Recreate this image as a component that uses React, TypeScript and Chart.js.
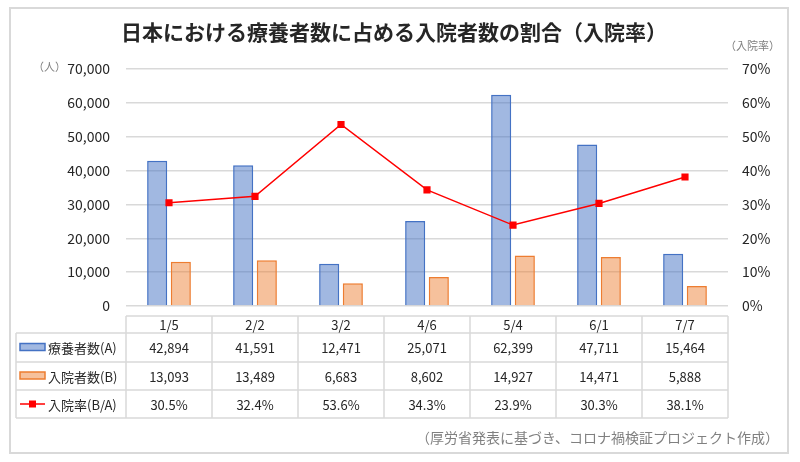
import React, { useEffect, useRef } from "react";
import { Chart, registerables } from "chart.js";

Chart.register(...registerables);

const categories = ["1/5", "2/2", "3/2", "4/6", "5/4", "6/1", "7/7"];
const recuperating = [42894, 41591, 12471, 25071, 62399, 47711, 15464];
const hospitalized = [13093, 13489, 6683, 8602, 14927, 14471, 5888];
const hospitalRate = [30.5, 32.4, 53.6, 34.3, 23.9, 30.3, 38.1];
const seriesNames = ["療養者数(A)", "入院者数(B)", "入院率(B/A)"];
const titleText = "日本における療養者数に占める入院者数の割合（入院率）";
const leftUnit = "（人）";
const rightUnit = "（入院率）";
const sourceText = "（厚労省発表に基づき、コロナ禍検証プロジェクト作成）";

const FONT = '"Noto Sans CJK JP", "Noto Sans", sans-serif';
const BLUE = "#4472C4";
const BLUE_FILL = "rgba(68,114,196,0.5)";
const ORANGE = "#ED7D31";
const ORANGE_FILL = "rgba(237,125,49,0.48)";
const RED = "#FF0000";
const GRID = "#D9D9D9";

const fmtNum = (v: number) => v.toLocaleString("en-US");
const fmtPct = (v: number) => v.toFixed(1) + "%";

const extrasPlugin = {
  id: "extras",
  afterDraw(chart: any) {
    const ctx = chart.ctx as CanvasRenderingContext2D;
    const area = chart.chartArea;
    const xs = chart.scales.x;
    ctx.save();

    // outer border
    ctx.strokeStyle = "#D9D9D9";
    ctx.lineWidth = 2;
    ctx.strokeRect(10, 8, 778, 445);

    // title
    ctx.fillStyle = "#262626";
    ctx.font = `bold 21px ${FONT}`;
    ctx.textAlign = "center";
    ctx.textBaseline = "middle";
    ctx.fillText(titleText, 394, 32);

    // unit labels
    ctx.fillStyle = "#808080";
    ctx.font = `11px ${FONT}`;
    ctx.textAlign = "left";
    ctx.fillText(leftUnit, 33, 67);
    ctx.textAlign = "right";
    ctx.fillText(rightUnit, 780, 46);

    // table
    const left = area.left;
    const right = area.right;
    const n = categories.length;
    const colW = (right - left) / n;
    const x0 = 16;
    const yTop = 316;
    const rows = [333, 362, 390, 418];

    ctx.strokeStyle = GRID;
    ctx.lineWidth = 1.5;
    ctx.beginPath();
    ctx.moveTo(left, yTop);
    ctx.lineTo(right, yTop);
    rows.forEach((y) => {
      ctx.moveTo(x0, y);
      ctx.lineTo(right, y);
    });
    for (let i = 0; i <= n; i++) {
      const x = left + i * colW;
      ctx.moveTo(x, yTop);
      ctx.lineTo(x, rows[3]);
    }
    ctx.moveTo(x0, rows[0]);
    ctx.lineTo(x0, rows[3]);
    ctx.stroke();

    ctx.fillStyle = "#262626";
    ctx.textAlign = "center";
    ctx.textBaseline = "middle";
    ctx.font = `13px ${FONT}`;
    const headY = (yTop + rows[0]) / 2 + 1;
    categories.forEach((c, i) => {
      const cx = xs.getPixelForValue(i);
      ctx.fillText(c, cx, headY);
    });
    const rowData = [
      recuperating.map(fmtNum),
      hospitalized.map(fmtNum),
      hospitalRate.map(fmtPct),
    ];
    rowData.forEach((vals, r) => {
      const cy = (rows[r] + rows[r + 1]) / 2 + 1;
      vals.forEach((v, i) => {
        const cx = xs.getPixelForValue(i);
        ctx.fillText(v, cx, cy);
      });
    });

    // legend keys in first column
    const keyX = 20;
    const keyW = 25;
    for (let r = 0; r < 3; r++) {
      const cy = (rows[r] + rows[r + 1]) / 2;
      if (r < 2) {
        ctx.fillStyle = r === 0 ? BLUE_FILL : ORANGE_FILL;
        ctx.strokeStyle = r === 0 ? BLUE : ORANGE;
        ctx.lineWidth = 1.5;
        ctx.fillRect(keyX, cy - 4, keyW, 7);
        ctx.strokeRect(keyX, cy - 4, keyW, 7);
      } else {
        ctx.strokeStyle = RED;
        ctx.lineWidth = 1.5;
        ctx.beginPath();
        ctx.moveTo(keyX, cy);
        ctx.lineTo(keyX + keyW, cy);
        ctx.stroke();
        ctx.fillStyle = RED;
        ctx.fillRect(keyX + keyW / 2 - 3.5, cy - 3.5, 7, 7);
      }
      ctx.fillStyle = "#262626";
      ctx.textAlign = "left";
      ctx.font = `13px ${FONT}`;
      ctx.fillText(seriesNames[r], keyX + keyW + 3, cy + 1);
    }

    // source
    ctx.fillStyle = "#808080";
    ctx.font = `14px ${FONT}`;
    ctx.textAlign = "right";
    ctx.fillText(sourceText, 779, 438);

    ctx.restore();
  },
};

export default function App() {
  const ref = useRef<HTMLCanvasElement | null>(null);

  useEffect(() => {
    if (!ref.current) return;
    const chart = new Chart(ref.current, {
      type: "bar",
      data: {
        labels: categories,
        datasets: [
          {
            type: "line",
            label: seriesNames[2],
            data: hospitalRate,
            yAxisID: "y1",
            borderColor: RED,
            backgroundColor: RED,
            borderWidth: 1.5,
            pointStyle: "rect",
            pointRadius: 4,
            pointBackgroundColor: RED,
            pointBorderColor: RED,
            order: 0,
          } as any,
          {
            type: "bar",
            label: seriesNames[0],
            data: recuperating,
            yAxisID: "y",
            backgroundColor: BLUE_FILL,
            borderColor: BLUE,
            borderWidth: 1.5,
            categoryPercentage: 0.55,
            barPercentage: 0.85,
            order: 1,
          },
          {
            type: "bar",
            label: seriesNames[1],
            data: hospitalized,
            yAxisID: "y",
            backgroundColor: ORANGE_FILL,
            borderColor: ORANGE,
            borderWidth: 1.5,
            categoryPercentage: 0.55,
            barPercentage: 0.85,
            order: 1,
          },
        ],
      },
      options: {
        responsive: false,
        animation: false,
        layout: { padding: { left: 10, right: 0, top: 69, bottom: 156 } },
        plugins: {
          legend: { display: false },
          tooltip: { enabled: false },
          title: { display: false },
        },
        scales: {
          x: { display: false },
          y: {
            position: "left",
            min: 0,
            max: 70000,
            ticks: {
              stepSize: 10000,
              padding: 16,
              color: "#262626",
              font: { family: FONT, size: 14 },
              callback: (v: any) => fmtNum(Number(v)),
            },
            grid: { color: GRID, lineWidth: 1.5, drawTicks: false },
            border: { display: false },
            afterFit: (axis: any) => {
              axis.width = 116;
            },
          },
          y1: {
            position: "right",
            min: 0,
            max: 70,
            ticks: {
              stepSize: 10,
              padding: 14,
              color: "#262626",
              font: { family: FONT, size: 14 },
              callback: (v: any) => v + "%",
            },
            grid: { display: false, drawTicks: false },
            border: { display: false },
            afterFit: (axis: any) => {
              axis.width = 72;
            },
          },
        },
      },
      plugins: [extrasPlugin],
    });
    return () => chart.destroy();
  }, []);

  return (
    <div style={{ position: "absolute", left: 0, top: 0, width: 800, height: 462, background: "#fff" }}>
      <canvas ref={ref} width={800} height={462} style={{ display: "block", width: 800, height: 462 }} />
    </div>
  );
}
